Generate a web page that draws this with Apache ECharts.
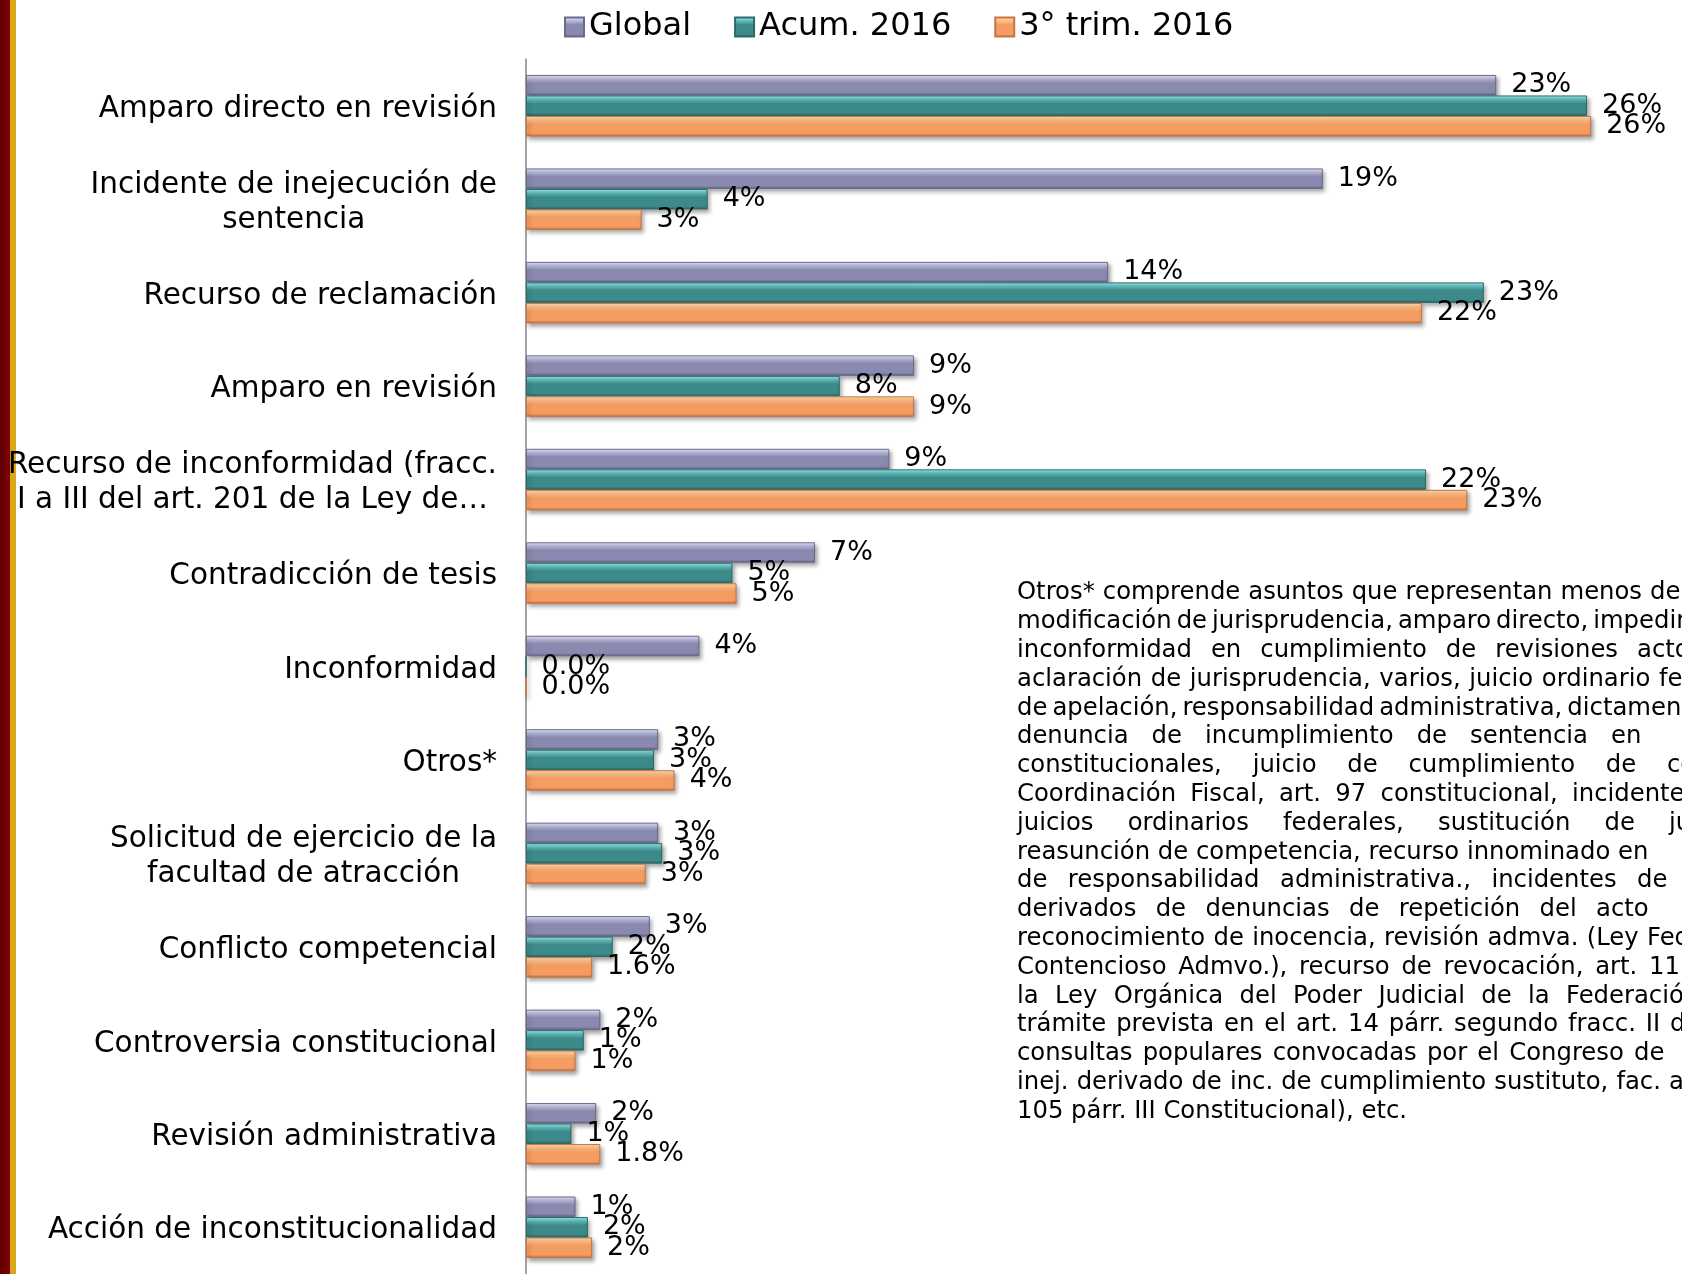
<!DOCTYPE html>
<html>
<head>
<meta charset="utf-8">
<script src="https://cdn.jsdelivr.net/npm/echarts@6/dist/echarts.min.js"></script>
<style>
  html, body { margin: 0; padding: 0; background: #fff; }
  #main { width: 1682px; height: 1274px; }
</style>
</head>
<body>
<div id="main"></div>
<script>
// categorías (de arriba hacia abajo)
const categories = [
  'Amparo directo en revisión',
  'Incidente de inejecución de\nsentencia',
  'Recurso de reclamación',
  'Amparo en revisión',
  'Recurso de inconformidad (fracc.\nI a III del art. 201 de la Ley de…',
  'Contradicción de tesis',
  'Inconformidad',
  'Otros*',
  'Solicitud de ejercicio de la\nfacultad de atracción',
  'Conflicto competencial',
  'Controversia constitucional',
  'Revisión administrativa',
  'Acción de inconstitucionalidad'
];
const seriesNames = ['Global', 'Acum. 2016', '3° trim. 2016'];

// porcentajes
const globalValues = [23.5, 19.3, 14.1, 9.4, 8.8, 7.0, 4.2, 3.2, 3.2, 3.0, 1.8, 1.7, 1.2];
const acumValues   = [25.7, 4.4, 23.2, 7.6, 21.8, 5.0, 0, 3.1, 3.3, 2.1, 1.4, 1.1, 1.5];
const trimValues   = [25.8, 2.8, 21.7, 9.4, 22.8, 5.1, 0, 3.6, 2.9, 1.6, 1.2, 1.8, 1.6];

// etiquetas tal como aparecen
const globalLabels = ['23%', '19%', '14%', '9%', '9%', '7%', '4%', '3%', '3%', '3%', '2%', '2%', '1%'];
const acumLabels   = ['26%', '4%', '23%', '8%', '22%', '5%', '0.0%', '3%', '3%', '2%', '1%', '1%', '2%'];
const trimLabels   = ['26%', '3%', '22%', '9%', '23%', '5%', '0.0%', '4%', '3%', '1.6%', '1%', '1.8%', '2%'];

// nota al margen
const noteLines = [
  'Otros* comprende asuntos que representan menos del',
  'modificación de jurisprudencia, amparo directo, impedimento,',
  'inconformidad en cumplimiento de revisiones actos',
  'aclaración de jurisprudencia, varios, juicio ordinario federal,',
  'de apelación, responsabilidad administrativa, dictamen',
  'denuncia de incumplimiento de sentencia en',
  'constitucionales, juicio de cumplimiento de convenios',
  'Coordinación Fiscal, art. 97 constitucional, incidentes',
  'juicios ordinarios federales, sustitución de jurisprudencia',
  'reasunción de competencia, recurso innominado en',
  'de responsabilidad administrativa., incidentes de',
  'derivados de denuncias de repetición del acto',
  'reconocimiento de inocencia, revisión admva. (Ley Federal',
  'Contencioso Admvo.), recurso de revocación, art. 11',
  'la Ley Orgánica del Poder Judicial de la Federación',
  'trámite prevista en el art. 14 párr. segundo fracc. II de',
  'consultas populares convocadas por el Congreso de',
  'inej. derivado de inc. de cumplimiento sustituto, fac. art.',
  '105 párr. III Constitucional), etc.'
];

const FONT = '"DejaVu Sans", Verdana, sans-serif';

// texto justificado: x donde empieza la última palabra visible de cada renglón
const noteLastWordX = [1650, 1574, 1637, 1659, 1553, 1611, 1667, 1572, 1669, 1618,
                       1637, 1596, 1647, 1649, 1566, 1670, 1634, 1669, null];
const NOTE_LEFT = 1017, NOTE_TOP = 593, NOTE_LH = 28.8, NOTE_FS = 24.3;

function buildNote() {
  const ctx = document.createElement('canvas').getContext('2d');
  ctx.font = NOTE_FS + 'px ' + FONT;
  const space = ctx.measureText(' ').width;
  const els = [];
  noteLines.forEach((line, i) => {
    const words = line.split(' ');
    const widths = words.map(w => ctx.measureText(w).width);
    let gap = space;
    const lastX = noteLastWordX[i];
    if (lastX && words.length > 1) {
      const before = widths.slice(0, -1).reduce((a, b) => a + b, 0);
      gap = Math.max(space * 0.65, (lastX - NOTE_LEFT - before) / (words.length - 1));
    }
    let x = NOTE_LEFT;
    const y = NOTE_TOP + i * NOTE_LH;
    words.forEach((w, j) => {
      els.push({
        type: 'text', x: x, y: y,
        style: {
          text: w, fill: '#000', fontSize: NOTE_FS, fontFamily: FONT,
          textAlign: 'left', textVerticalAlign: 'middle', align: 'left', verticalAlign: 'middle'
        }
      });
      x += widths[j] + gap;
    });
  });
  return els;
}

function grad(c) {
  return new echarts.graphic.LinearGradient(0, 0, 0, 1, [
    { offset: 0, color: c[0] },
    { offset: 0.22, color: c[1] },
    { offset: 0.4, color: c[2] },
    { offset: 0.85, color: c[2] },
    { offset: 1, color: c[3] }
  ]);
}
const palettes = [
  ['#e8e8ff', '#b4b4d8', '#8a8ab0', '#5e5e80'],
  ['#9aeeee', '#5fb8b8', '#3c8a8a', '#285e5e'],
  ['#ffe0b0', '#ffbc84', '#f59c62', '#c06c38']
];
const borders = ['#6a6a8c', '#2e6a6a', '#c87442'];

const valueLists = [globalValues, acumValues, trimValues];
const labelLists = [globalLabels, acumLabels, trimLabels];

const chart = echarts.init(document.getElementById('main'));

const option = {
  backgroundColor: '#fff',
  animation: false,
  legend: {
    data: seriesNames,
    left: 559,
    top: 6,
    icon: 'rect',
    itemWidth: 19,
    itemHeight: 19,
    itemGap: 43,
    textStyle: { fontSize: 32, fontFamily: FONT, color: '#000' }
  },
  grid: { left: 526, top: 59, width: 28 * 41.8, height: 13 * 94, containLabel: false },
  xAxis: {
    type: 'value', min: 0, max: 28, show: false
  },
  yAxis: {
    type: 'category',
    inverse: true,
    data: categories,
    axisLine: { lineStyle: { color: '#868686', width: 1.5 } },
    axisTick: { length: 10, lineStyle: { color: '#868686', width: 1.5 } },
    axisLabel: {
      margin: 29,
      align: 'right',
      padding: [7, 0, 0, 0],
      formatter: v => v.split('\n').map(s => '{c|' + s + '}').join('\n'),
      rich: {
        c: { align: 'center', fontSize: 29.5, fontFamily: FONT, color: '#000', lineHeight: 35 }
      }
    }
  },
  series: seriesNames.map((name, k) => ({
    name: name,
    type: 'bar',
    data: valueLists[k],
    barWidth: 20.5,
    barGap: '0%',
    itemStyle: {
      color: grad(palettes[k]),
      borderColor: borders[k],
      borderWidth: 1,
      shadowColor: 'rgba(0,0,0,0.35)',
      shadowBlur: 4,
      shadowOffsetX: 2,
      shadowOffsetY: 3
    },
    label: {
      show: true,
      position: 'right',
      distance: 15,
      fontSize: 27,
      fontFamily: FONT,
      color: '#000',
      formatter: p => labelLists[k][p.dataIndex]
    }
  })),
  graphic: [
    {
      type: 'rect', z: -1, shape: { x: 0, y: 0, width: 10, height: 1274 },
      style: { fill: new echarts.graphic.LinearGradient(0, 0, 1, 0, [
        { offset: 0, color: '#5a0000' }, { offset: 1, color: '#850000' }]) }
    },
    {
      type: 'rect', z: -1, shape: { x: 10, y: 0, width: 6, height: 1274 },
      style: { fill: '#d9a818' }
    }
  ].concat(buildNote())
};

chart.setOption(option);
</script>
</body>
</html>
